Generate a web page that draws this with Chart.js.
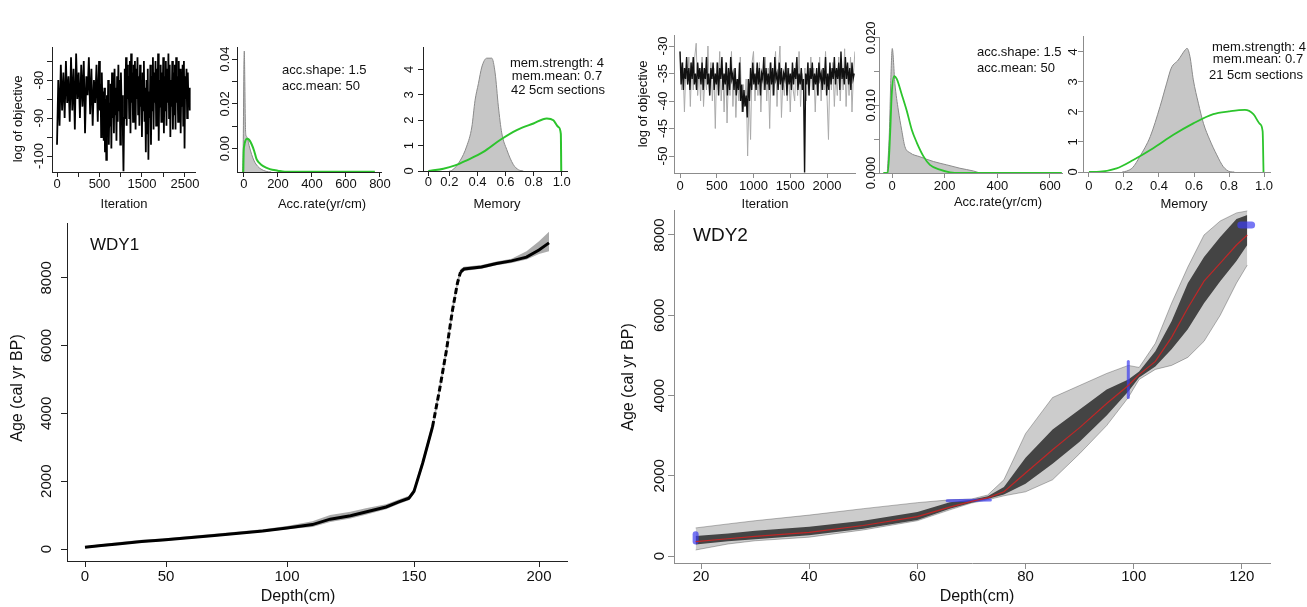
<!DOCTYPE html>
<html>
<head>
<meta charset="utf-8">
<title>Bacon age-depth models WDY1 / WDY2</title>
<script src="https://cdn.jsdelivr.net/npm/chart.js@4.4.1/dist/chart.umd.min.js"></script>
<style>
  body { margin: 0; background: #fff; }
  #wrap { position: relative; width: 1307px; height: 607px; overflow: hidden; background: #fff; }
  #wrap canvas { position: absolute; }
</style>
</head>
<body>
<div id="wrap">
  <canvas id="trace1"></canvas>
  <canvas id="acc1"></canvas>
  <canvas id="mem1"></canvas>
  <canvas id="age1"></canvas>
  <canvas id="trace2"></canvas>
  <canvas id="acc2"></canvas>
  <canvas id="mem2"></canvas>
  <canvas id="age2"></canvas>
</div>
<script>
// ---------- WDY1 ----------
// MCMC trace, one value every 15 iterations
const TRACE1_STEP = 15;
const TRACE1 = [
  -97, -80, -92, -76, -88, -78, -90, -75, -86, -79,
  -91, -74, -88, -77, -93, -73, -85, -78, -90, -76,
  -87, -75, -94, -79, -84, -74, -89, -77, -92, -80,
  -86, -76, -91, -75, -88, -81, -95, -78, -87, -83,
  -96, -82, -99, -85, -101, -84, -93, -80, -97, -86,
  -92, -81, -98, -78, -90, -83, -94, -77, -89, -82,
  -96, -79, -91, -76, -88, -80, -97, -78, -86, -84,
  -93, -104, -90, -77, -87, -74, -92, -76, -85, -79,
  -90, -75, -94, -73, -86, -78, -91, -76, -88, -75,
  -93, -77, -85, -74, -89, -79, -92, -76, -87, -80,
  -95, -78, -88, -75, -91, -82, -99, -80, -94, -77,
  -101, -83, -90, -76, -97, -79, -88, -74, -93, -78,
  -86, -75, -92, -77, -89, -73, -96, -80, -87, -76,
  -91, -78, -85, -74, -94, -79, -88, -75, -92, -77,
  -86, -73, -90, -76, -95, -80, -87, -75, -93, -78,
  -89, -76, -93, -74, -86, -79, -91, -75, -88, -77,
  -94, -80, -87, -76, -92, -75, -98, -79, -85, -77,
  -90, -78, -86, -82, -88
];
const ITER1_TICKS = [0, 250, 500, 1000, 1500, 2000, 2500];
const ITER1_LABELS = ['0', '', '500', '', '1500', '', '2500'];
const OBJ1_TICKS = [-100, -95, -90, -85, -80, -75];
const OBJ1_LABELS = ['-100', '', '-90', '', '-80', ''];

// accumulation rate: posterior (grey) and prior (green)
const ACC1_POST_X = [-8, -4, -1, 2, 5, 8, 11, 15, 22, 30, 45, 60, 80, 100, 130, 160];
const ACC1_POST_Y = [-0.0104, 0.004, 0.033, 0.0436, 0.03, 0.012, 0.0062, 0.0055, 0.0042, 0.0015, -0.0025, -0.0055, -0.0078, -0.0091, -0.0101, -0.0104];
const ACC1_PRIOR_X = [-4, -2, 2, 8, 18, 30, 45, 60, 74, 90, 113, 152, 199, 240, 770];
const ACC1_PRIOR_Y = [-0.0104, -0.002, 0.0015, 0.0035, 0.0044, 0.004, 0.002, -0.001, -0.0047, -0.0063, -0.0078, -0.0091, -0.0098, -0.0103, -0.0103];
const ACC1_X_TICKS = [0, 200, 400, 600, 800];
const ACC1_Y_TICKS = [0, 0.01, 0.02, 0.03, 0.04];
const ACC1_Y_LABELS = ['0.00', '', '0.02', '', '0.04'];

// memory: posterior (grey) and prior (green)
const MEM1_POST_X = [0.2, 0.217, 0.276, 0.324, 0.36, 0.383, 0.407, 0.431, 0.467, 0.502, 0.526, 0.549, 0.573, 0.609, 0.656, 0.692, 0.727];
const MEM1_POST_Y = [0, 0.02, 0.4, 0.98, 1.73, 2.78, 3.44, 4.09, 4.44, 4.44, 3.86, 2.55, 1.5, 0.84, 0.25, 0.05, 0];
const MEM1_PRIOR_X = [0, 0.143, 0.241, 0.324, 0.442, 0.561, 0.68, 0.799, 0.894, 0.941, 0.977, 0.994, 0.997];
const MEM1_PRIOR_Y = [0, 0.09, 0.22, 0.42, 0.75, 1.22, 1.61, 1.87, 2.07, 2.0, 1.73, 1.46, 0];
const MEM_X_TICKS = [0, 0.2, 0.4, 0.6, 0.8, 1.0];
const MEM_X_LABELS = ['0', '0.2', '0.4', '0.6', '0.8', '1.0'];
const MEM_Y_TICKS = [0, 1, 2, 3, 4];

// age-depth model
const WDY1_DEPTH = [0, 10, 20, 35, 48, 70, 90, 100, 110, 117, 125, 131, 139, 144, 148, 150, 153.5, 157.4, 160.2, 163, 165.4, 167.4, 168.6, 170, 177, 183, 189, 195, 200, 204];
const WDY1_AGE = [50, 100, 150, 220, 265, 400, 530, 620, 720, 880, 980, 1090, 1240, 1390, 1500, 1700, 2540, 3600, 4690, 5870, 7050, 7850, 8170, 8260, 8320, 8420, 8500, 8610, 8820, 9030];
const WDY1_LOW = [20, 70, 120, 190, 235, 370, 500, 580, 650, 800, 900, 1010, 1170, 1330, 1440, 1620, 2420, 3470, 4560, 5740, 6920, 7740, 8090, 8200, 8270, 8370, 8440, 8540, 8700, 8780];
const WDY1_HIGH = [90, 140, 200, 270, 310, 450, 580, 680, 820, 1000, 1100, 1200, 1320, 1460, 1570, 1790, 2670, 3740, 4830, 6010, 7200, 7970, 8260, 8330, 8380, 8480, 8560, 8780, 9080, 9360];
const DEPTH1_TICKS = [0, 50, 100, 150, 200];
const AGE_TICKS = [0, 2000, 4000, 6000, 8000];

// ---------- WDY2 ----------
const TRACE2_GREY_STEP = 20;
const TRACE2_GREY = [
  -31, -38, -33, -42, -34, -37, -32, -41, -33, -38,
  -32, -29.5, -39, -34, -40, -32, -41, -35, -38, -30,
  -39, -33, -40, -34, -45, -33, -38, -31, -40, -34,
  -42, -33, -44, -35, -39, -31, -41, -34, -43, -36,
  -40, -32, -42, -37, -41, -36, -50, -38, -47, -33,
  -31, -40, -34, -39, -33, -42, -35, -38, -32, -40,
  -34, -45, -33, -39, -35, -31, -41, -34, -30, -43,
  -36, -39, -33, -40, -34, -42, -35, -38, -40, -33,
  -39, -31, -41, -35, -38, -34, -40, -33, -39, -32,
  -38, -34, -42, -35, -39, -32, -40, -34, -38, -31,
  -39, -47, -34, -38, -33, -41, -35, -39, -32, -40,
  -34, -38, -30.5, -41, -34, -39, -32, -42, -35, -31
];
const TRACE2_BLACK_STEP = 15;
const TRACE2_BLACK = [
  -31, -37, -33, -38, -34, -36, -32, -37, -34, -38,
  -33, -36, -32, -37, -35, -38, -33, -36, -34, -37,
  -33, -38, -34, -36, -32, -37, -35, -39, -34, -36,
  -33, -38, -35, -37, -33, -39, -34, -36, -32, -38,
  -35, -37, -33, -39, -34, -38, -32, -36, -35, -38,
  -34, -39, -36, -38, -33, -40, -37, -42, -38, -41,
  -39, -43, -36, -40, -34, -38, -33, -37, -35, -38,
  -33, -37, -34, -39, -35, -36, -32, -38, -34, -37,
  -35, -38, -33, -37, -34, -39, -32, -36, -35, -38,
  -33, -37, -34, -38, -35, -36, -33, -39, -34, -37,
  -35, -38, -33, -37, -34, -36, -32, -38, -35, -37,
  -34, -38, -36, -53, -35, -37, -33, -39, -34, -36,
  -33, -38, -35, -37, -34, -39, -33, -36, -35, -38,
  -34, -37, -32, -39, -35, -38, -33, -37, -34, -36,
  -32, -37, -34, -36, -33, -38, -31, -36, -34, -37,
  -32, -36, -33, -37, -34, -38, -33, -36, -35
];
const ITER2_TICKS = [0, 500, 1000, 1500, 2000];
const OBJ2_TICKS = [-50, -45, -40, -35, -30];

const ACC2_POST_X = [-18, -10, -5, 1, 11, 24, 37, 49, 68, 106, 157, 208, 258, 309, 334];
const ACC2_POST_Y = [0, 0.006, 0.0132, 0.0184, 0.0132, 0.0093, 0.0063, 0.0039, 0.003, 0.0024, 0.0017, 0.0012, 0.0007, 0.0003, 0];
const ACC2_PRIOR_X = [-33, -16, -7, -1, 8, 18, 37, 56, 75, 94, 119, 144, 182, 220, 260, 645];
const ACC2_PRIOR_Y = [0, 0, 0.0059, 0.0117, 0.0143, 0.0139, 0.0116, 0.0092, 0.0064, 0.0045, 0.0025, 0.0012, 0.0005, 0.0001, 0, 0];
const ACC2_X_TICKS = [0, 200, 400, 600];
const ACC2_Y_TICKS = [0, 0.005, 0.01, 0.015, 0.02];
const ACC2_Y_LABELS = ['0.000', '', '0.010', '', '0.020'];

const MEM2_POST_X = [0.19, 0.215, 0.25, 0.29, 0.35, 0.406, 0.444, 0.47, 0.51, 0.55, 0.56, 0.577, 0.596, 0.625, 0.654, 0.69, 0.73, 0.767, 0.806, 0.83];
const MEM2_POST_Y = [0, 0.03, 0.15, 0.51, 1.18, 2.18, 2.96, 3.46, 3.73, 4.07, 4.12, 3.84, 3.07, 2.29, 1.62, 1.07, 0.57, 0.18, 0.01, 0];
const MEM2_PRIOR_X = [0, 0.063, 0.158, 0.253, 0.367, 0.48, 0.596, 0.71, 0.8, 0.891, 0.939, 0.977, 0.992, 0.997];
const MEM2_PRIOR_Y = [0, 0.01, 0.12, 0.4, 0.79, 1.23, 1.62, 1.93, 2.02, 2.07, 1.93, 1.6, 1.35, 0];

const WDY2_DEPTH = [19, 25, 30, 40, 50, 60, 66, 70, 73, 76, 80, 85, 90, 95, 99, 101, 104, 107, 110, 113, 116, 119, 121];
const WDY2_MEDIAN = [360, 430, 490, 590, 760, 980, 1220, 1360, 1450, 1600, 2070, 2650, 3200, 3800, 4250, 4520, 4850, 5450, 6180, 6850, 7300, 7750, 8000];
const WDY2_IN_LOW = [290, 370, 420, 520, 680, 900, 1180, 1330, 1420, 1530, 1800, 2300, 2850, 3500, 4100, 4450, 4720, 5150, 5650, 6300, 6850, 7350, 7750];
const WDY2_IN_HIGH = [500, 560, 630, 730, 880, 1100, 1340, 1400, 1490, 1720, 2450, 3150, 3650, 4150, 4400, 4600, 5100, 5850, 6800, 7450, 7950, 8400, 8500];
const WDY2_OUT_LOW = [150, 300, 380, 470, 650, 880, 1150, 1320, 1400, 1500, 1600, 1900, 2550, 3250, 3950, 4400, 4650, 4750, 4950, 5350, 6000, 6800, 7250];
const WDY2_OUT_HIGH = [700, 800, 880, 1020, 1180, 1330, 1400, 1420, 1520, 1900, 3050, 3950, 4250, 4550, 4750, 4700, 5300, 6300, 7200, 8000, 8350, 8550, 8600];
// dated levels (blue)
const DATE_DEPTH_FROM = [19, 65.5, 99, 119.8];
const DATE_DEPTH_TO = [19, 73.5, 99, 121.8];
const DATE_AGE_FROM = [360, 1375, 3950, 8250];
const DATE_AGE_TO = [540, 1395, 4850, 8250];
const DEPTH2_TICKS = [20, 40, 60, 80, 100, 120];

// ---------- drawing ----------
const FONT = '"Liberation Sans", Arial, Helvetica, sans-serif';
const DARK = '#222';
const LIGHT = '#8c8c8c';
const GREEN = '#2cc42c';
const HIST_FILL = '#c6c6c6';
const HIST_LINE = '#8a8a8a';

// piecewise linear axis: listed values sit at fixed fractions of the axis
class WarpScale extends Chart.LinearScale {
  getPixelForValue(value) {
    const {values, fracs} = this.options.knots;
    let i = 1;
    while (i < values.length - 1 && value > values[i]) i++;
    const f = fracs[i - 1] + (value - values[i - 1]) * (fracs[i] - fracs[i - 1]) / (values[i] - values[i - 1]);
    return this.getPixelForDecimal(f);
  }
}
WarpScale.id = 'warp';
WarpScale.defaults = Chart.LinearScale.defaults;
Chart.register(WarpScale);

const pts = (xs, ys) => xs.map((x, i) => ({x, y: ys[i]}));
const stepPts = (ys, step) => ys.map((y, i) => ({x: i * step, y}));

function axis(a, horizontal, size) {
  return {
    type: a.type || 'linear',
    min: a.min,
    max: a.max,
    knots: a.knots,
    afterBuildTicks: s => { s.ticks = a.ticks.map(v => ({value: v})); },
    afterFit: s => { if (horizontal) s.height = size; else s.width = size; },
    ticks: {
      display: horizontal,
      autoSkip: false,
      minRotation: 0,
      maxRotation: 0,
      padding: a.pad || 0,
      color: '#111',
      font: {family: FONT, size: a.font},
      callback: (v, i) => (a.labels ? a.labels[i] : String(v))
    },
    grid: {drawOnChartArea: false, tickLength: a.tick, color: a.color, tickColor: a.color, lineWidth: 1},
    border: {display: true, color: a.color, width: 1}
  };
}

// R style: y tick labels rotated, plus free text (axis titles, notes)
function textPlugin(box, p) {
  return {
    id: 'rtext',
    afterDraw(chart) {
      const ctx = chart.ctx;
      const ys = chart.scales.y;
      ctx.save();
      ctx.fillStyle = '#111';
      ctx.textBaseline = 'middle';
      ctx.textAlign = 'center';
      ctx.font = p.y.font + 'px ' + FONT;
      ys.ticks.forEach(t => {
        if (!t.label) return;
        ctx.save();
        ctx.translate(ys.right - p.y.labelOffset, ys.getPixelForValue(t.value));
        ctx.rotate(-Math.PI / 2);
        ctx.fillText(t.label, 0, 0);
        ctx.restore();
      });
      p.texts.forEach(t => {
        ctx.save();
        ctx.font = t.size + 'px ' + FONT;
        ctx.textAlign = t.align || 'center';
        ctx.translate(t.at[0] - box[0], t.at[1] - box[1]);
        if (t.vertical) ctx.rotate(-Math.PI / 2);
        ctx.fillText(t.text, 0, 0);
        ctx.restore();
      });
      ctx.restore();
    }
  };
}

// box = canvas [left, top, width, height], plot = plotting region [left, top, right, bottom]
function panel(id, box, plot, p) {
  const cv = document.getElementById(id);
  cv.width = box[2];
  cv.height = box[3];
  cv.style.left = box[0] + 'px';
  cv.style.top = box[1] + 'px';
  return new Chart(cv, {
    type: 'line',
    data: {datasets: p.datasets},
    options: {
      responsive: false,
      animation: false,
      events: [],
      layout: {padding: {left: 0, bottom: 0, top: plot[1] - box[1], right: box[0] + box[2] - plot[2]}},
      elements: {point: {radius: 0}, line: {tension: 0}},
      plugins: {legend: {display: false}, tooltip: {enabled: false}},
      scales: {
        x: axis(p.x, true, box[1] + box[3] - plot[3]),
        y: axis(p.y, false, plot[0] - box[0])
      }
    },
    plugins: [textPlugin(box, p)]
  });
}

const density = (xs, ys, color, width) => ({
  data: pts(xs, ys), borderColor: color, borderWidth: width, cubicInterpolationMode: 'monotone'
});
const hist = (xs, ys) => ({
  data: pts(xs, ys), borderColor: HIST_LINE, borderWidth: 1, backgroundColor: HIST_FILL,
  fill: 'start', cubicInterpolationMode: 'monotone'
});

// ----- WDY1 top row -----
panel('trace1', [0, 25, 215, 195], [52, 47, 195, 172], {
  x: {type: 'warp', knots: {values: [0, 500, 1500, 2500], fracs: [0.035, 0.332, 0.629, 0.93]},
      min: -200, max: 2800, ticks: ITER1_TICKS, labels: ITER1_LABELS, font: 13, tick: 5, pad: 0, color: DARK},
  y: {min: -104.2, max: -71.3, ticks: OBJ1_TICKS, labels: OBJ1_LABELS, font: 13, tick: 5, labelOffset: 13, color: DARK},
  datasets: [{data: stepPts(TRACE1, TRACE1_STEP), borderColor: '#000', borderWidth: 1.8}],
  texts: [
    {text: 'log of objective', at: [18, 119], size: 13, vertical: true},
    {text: 'Iteration', at: [124, 204], size: 13}
  ]
});

panel('acc1', [205, 25, 215, 195], [237, 47, 381, 172], {
  x: {min: -41, max: 806, ticks: ACC1_X_TICKS, font: 13, tick: 5, pad: 0, color: DARK},
  y: {min: -0.0104, max: 0.0454, ticks: ACC1_Y_TICKS, labels: ACC1_Y_LABELS, font: 13, tick: 5, labelOffset: 12, color: DARK},
  datasets: [
    density(ACC1_PRIOR_X, ACC1_PRIOR_Y, GREEN, 2),
    hist(ACC1_POST_X, ACC1_POST_Y)
  ],
  texts: [
    {text: 'Acc.rate(yr/cm)', at: [322, 204], size: 13},
    {text: 'acc.shape: 1.5', at: [282, 70], size: 13, align: 'left'},
    {text: 'acc.mean: 50', at: [282, 86], size: 13, align: 'left'}
  ]
});

panel('mem1', [400, 25, 215, 195], [423, 47, 567, 171], {
  x: {type: 'warp', knots: {values: [0, 0.2, 1.0], fracs: [0.037, 0.183, 0.963]},
      min: -0.05, max: 1.05, ticks: MEM_X_TICKS, labels: MEM_X_LABELS, font: 13, tick: 5, pad: -1, color: DARK},
  y: {min: 0, max: 4.88, ticks: MEM_Y_TICKS, font: 13, tick: 5, labelOffset: 14, color: DARK},
  datasets: [
    density(MEM1_PRIOR_X, MEM1_PRIOR_Y, GREEN, 2),
    hist(MEM1_POST_X, MEM1_POST_Y)
  ],
  texts: [
    {text: 'Memory', at: [497, 204], size: 13},
    {text: 'mem.strength: 4', at: [557, 63], size: 13},
    {text: 'mem.mean: 0.7', at: [557, 76], size: 13},
    {text: '42 5cm sections', at: [558, 90], size: 13}
  ]
});

// ----- WDY1 age-depth -----
panel('age1', [0, 200, 610, 407], [67, 223, 567, 561], {
  x: {type: 'warp', knots: {values: [0, 50, 100, 150, 200], fracs: [0.036, 0.198, 0.44, 0.694, 0.944]},
      min: -20, max: 215, ticks: DEPTH1_TICKS, font: 15, tick: 6, pad: 1, color: DARK},
  y: {min: -354, max: 9617, ticks: AGE_TICKS, font: 15, tick: 6, labelOffset: 20, color: DARK},
  datasets: [
    {data: pts(WDY1_DEPTH, WDY1_AGE), borderColor: '#000', borderWidth: 3,
     segment: {borderDash: c => (c.p0.parsed.x >= 157 && c.p1.parsed.x <= 168.6 ? [6, 3] : undefined)}},
    {data: pts(WDY1_DEPTH, WDY1_LOW), borderWidth: 0, borderColor: 'rgba(0,0,0,0)'},
    {data: pts(WDY1_DEPTH, WDY1_HIGH), borderWidth: 0, borderColor: 'rgba(0,0,0,0)',
     backgroundColor: 'rgba(0,0,0,0.33)', fill: '-1'}
  ],
  texts: [
    {text: 'Age (cal yr BP)', at: [18, 388], size: 16, vertical: true},
    {text: 'Depth(cm)', at: [298, 597], size: 16},
    {text: 'WDY1', at: [90, 245], size: 17, align: 'left'}
  ]
});

// ----- WDY2 top row -----
panel('trace2', [612, 15, 260, 200], [674, 35, 855, 173], {
  x: {min: -82, max: 2381, ticks: ITER2_TICKS, font: 13, tick: 5, pad: 1, color: LIGHT},
  y: {min: -53.09, max: -28.0, ticks: OBJ2_TICKS, font: 13, tick: 5, labelOffset: 11, color: LIGHT},
  datasets: [
    {data: stepPts(TRACE2_BLACK, TRACE2_BLACK_STEP), borderColor: '#111', borderWidth: 1.4},
    {data: stepPts(TRACE2_GREY, TRACE2_GREY_STEP), borderColor: '#aaa', borderWidth: 1}
  ],
  texts: [
    {text: 'log of objective', at: [643, 104], size: 13, vertical: true},
    {text: 'Iteration', at: [765, 204], size: 13}
  ]
});

panel('acc2', [855, 15, 225, 200], [879, 37, 1062, 173], {
  x: {min: -49.4, max: 645.6, ticks: ACC2_X_TICKS, font: 13, tick: 5, pad: 1, color: LIGHT},
  y: {min: 0, max: 0.0201, ticks: ACC2_Y_TICKS, labels: ACC2_Y_LABELS, font: 13, tick: 5, labelOffset: 8, color: LIGHT},
  datasets: [
    density(ACC2_PRIOR_X, ACC2_PRIOR_Y, GREEN, 1.8),
    hist(ACC2_POST_X, ACC2_POST_Y)
  ],
  texts: [
    {text: 'Acc.rate(yr/cm)', at: [998, 202], size: 13},
    {text: 'acc.shape: 1.5', at: [977, 52], size: 13, align: 'left'},
    {text: 'acc.mean: 50', at: [977, 68], size: 13, align: 'left'}
  ]
});

panel('mem2', [1060, 15, 247, 200], [1083, 36, 1270, 172], {
  x: {min: -0.034, max: 1.034, ticks: MEM_X_TICKS, labels: MEM_X_LABELS, font: 13, tick: 5, pad: 2, color: LIGHT},
  y: {min: 0, max: 4.53, ticks: MEM_Y_TICKS, font: 13, tick: 5, labelOffset: 10, color: LIGHT},
  datasets: [
    density(MEM2_PRIOR_X, MEM2_PRIOR_Y, GREEN, 1.8),
    hist(MEM2_POST_X, MEM2_POST_Y)
  ],
  texts: [
    {text: 'Memory', at: [1184, 204], size: 13},
    {text: 'mem.strength: 4', at: [1259, 47], size: 13},
    {text: 'mem.mean: 0.7', at: [1258, 59], size: 13},
    {text: '21 5cm sections', at: [1256, 75], size: 13}
  ]
});

// ----- WDY2 age-depth -----
const BLUE = 'rgba(60,60,240,0.7)';
const dateSets = DATE_DEPTH_FROM.map((d, i) => ({
  data: [{x: d, y: DATE_AGE_FROM[i]}, {x: DATE_DEPTH_TO[i], y: DATE_AGE_TO[i]}],
  borderColor: BLUE, borderWidth: [6, 3, 3, 7][i], borderCapStyle: 'round'
}));

panel('age2', [600, 195, 707, 412], [674, 210, 1270, 563], {
  x: {min: 15.0, max: 125.2, ticks: DEPTH2_TICKS, font: 15, tick: 6, pad: -1, color: LIGHT},
  y: {min: -174, max: 8623, ticks: AGE_TICKS, font: 15, tick: 6, labelOffset: 14, color: LIGHT},
  datasets: [
    {data: pts(WDY2_DEPTH, WDY2_MEDIAN), borderColor: 'rgba(205,35,35,0.9)', borderWidth: 1.2},
    ...dateSets,
    {data: pts(WDY2_DEPTH, WDY2_IN_LOW), borderWidth: 0, borderColor: 'rgba(0,0,0,0)'},
    {data: pts(WDY2_DEPTH, WDY2_IN_HIGH), borderWidth: 0, borderColor: 'rgba(0,0,0,0)',
     backgroundColor: 'rgba(15,15,15,0.72)', fill: '-1'},
    {data: pts(WDY2_DEPTH, WDY2_OUT_LOW), borderWidth: 0.8, borderColor: 'rgba(0,0,0,0.35)'},
    {data: pts(WDY2_DEPTH, WDY2_OUT_HIGH), borderWidth: 0.8, borderColor: 'rgba(0,0,0,0.35)',
     backgroundColor: 'rgba(0,0,0,0.2)', fill: '-1'}
  ],
  texts: [
    {text: 'Age (cal yr BP)', at: [629, 377], size: 16, vertical: true},
    {text: 'Depth(cm)', at: [977, 597], size: 16},
    {text: 'WDY2', at: [693, 236], size: 19, align: 'left'}
  ]
});
</script>
</body>
</html>
